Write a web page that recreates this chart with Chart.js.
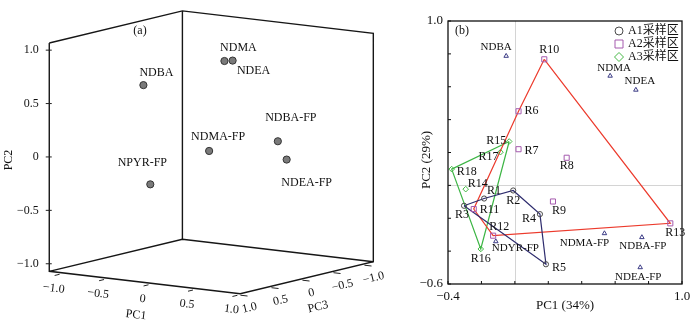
<!DOCTYPE html>
<html>
<head>
<meta charset="utf-8">
<script src="https://cdn.jsdelivr.net/npm/chart.js@4.4.1/dist/chart.umd.min.js"></script>
<style>
  html, body { margin: 0; padding: 0; background: #fff; }
  #wrap { position: relative; width: 700px; height: 327px; }
  canvas { position: absolute; top: 0; }
  #cube { left: 0; }
  #biplot { left: 385px; }
</style>
</head>
<body>
<div id="wrap">
  <canvas id="cube" width="385" height="327"></canvas>
  <canvas id="biplot" width="315" height="327"></canvas>
</div>
<script>
// (a) loadings in PC1/PC2/PC3 space
const cubeNames = ['NDMA', 'NDEA', 'NDBA', 'NDMA-FP', 'NDEA-FP', 'NDBA-FP', 'NPYR-FP'];
const cubePC1 = [0.57, 0.72, -0.05, 0.54, 0.75, 0.76, -0.11];
const cubePC2 = [1.02, 1.05, 0.79, 0.18, -0.02, 0.18, -0.20];
const cubePC3 = [0.60, 0.68, 1.05, 0.81, -0.17, -0.01, 0.85];
const cubeTicks = [-1.0, -0.5, 0, 0.5, 1.0];

// (b) sample scores
const sampleNames = ['R1', 'R2', 'R3', 'R4', 'R5', 'R6', 'R7', 'R8', 'R9', 'R10',
                     'R11', 'R12', 'R13', 'R14', 'R15', 'R16', 'R17', 'R18'];
const sampleZone = ['A1', 'A1', 'A1', 'A1', 'A1', 'A2', 'A2', 'A2', 'A2', 'A2',
                    'A2', 'A2', 'A2', 'A3', 'A3', 'A3', 'A3', 'A3'];
const scorePC1 = [-0.184, -0.010, -0.304, 0.150, 0.186, 0.022, 0.022, 0.310, 0.228, 0.176,
                  -0.246, -0.130, 0.930, -0.294, -0.034, -0.204, -0.086, -0.378];
const scorePC2 = [-0.080, -0.031, -0.124, -0.175, -0.480, 0.451, 0.220, 0.168, -0.098, 0.767,
                  -0.144, -0.306, -0.231, -0.023, 0.267, -0.387, 0.202, 0.099];

// (b) loading vectors
const vecNames = ['NDMA', 'NDEA', 'NDBA', 'NDMA-FP', 'NDEA-FP', 'NDBA-FP', 'NDYR-FP'];
const vecPC1 = [0.570, 0.724, -0.052, 0.536, 0.750, 0.760, -0.114];
const vecPC2 = [0.666, 0.581, 0.787, -0.292, -0.499, -0.316, -0.341];

// outline of each sampling zone
const zoneHull = {
  A1: ['R3', 'R1', 'R2', 'R4', 'R5'],
  A2: ['R10', 'R6', 'R11', 'R12', 'R13'],
  A3: ['R15', 'R18', 'R16']
};
const zoneNames = ['A1', 'A2', 'A3'];
const zoneLegend = ['A1采样区', 'A2采样区', 'A3采样区'];

const serif = '"Liberation Serif", "Noto Sans CJK SC", serif';
Chart.defaults.font.family = serif;
Chart.defaults.color = '#111';

const zoneMarker = {
  A1: { style: 'circle', color: '#4a4a4a', r: 2.6 },
  A2: { style: 'rect', color: '#a55aae', r: 3.6 },
  A3: { style: 'rectRot', color: '#45b845', r: 2.8 }
};
const hullColor = { A1: '#2e2c6e', A2: '#ec3a2c', A3: '#3cb544' };

function fmt(v) {
  if (Math.abs(v) < 1e-9) return '0';
  return (v < 0 ? '\u2212' : '') + Math.abs(v).toFixed(1);
}
function seg(ctx, x1, y1, x2, y2) {
  ctx.beginPath(); ctx.moveTo(x1, y1); ctx.lineTo(x2, y2); ctx.stroke();
}
function rotText(ctx, txt, x, y, ang) {
  ctx.save();
  ctx.translate(x, y);
  ctx.rotate(ang);
  ctx.fillText(txt, 0, 0);
  ctx.restore();
}

// ---------- (a) oblique view of the PC box ----------
const L = 1.1;
const view = { ox: 211.75, oy: 152, u: [88.9, 10.5], v: [-62, 15], h: 106.8 };
function project(p1, p2, p3) {
  return {
    x: view.ox + p1 * view.u[0] + p3 * view.v[0],
    y: view.oy + p1 * view.u[1] + p3 * view.v[1] - p2 * view.h
  };
}
const angPC1 = Math.atan2(view.u[1], view.u[0]);
const angPC3 = Math.atan2(-view.v[1], -view.v[0]);

const cLtop = project(-L, L, L), cLbot = project(-L, -L, L);
const cFbot = project(L, -L, L);
const cRtop = project(L, L, -L), cRbot = project(L, -L, -L);
const cBtop = project(-L, L, -L), cBbot = project(-L, -L, -L);

const cubeLabelPos = {
  'NDBA': [13, -12], 'NDMA': [14, -13], 'NDEA': [21, 10], 'NDMA-FP': [9, -14],
  'NDBA-FP': [13, -23], 'NDEA-FP': [20, 23], 'NPYR-FP': [-8, -22]
};

function frameSet(pts) {
  return {
    data: pts, showLine: true, fill: false, pointRadius: 0, pointHoverRadius: 0,
    borderColor: '#161616', borderWidth: 1.4, tension: 0, clip: false, order: 2
  };
}

const cubeDecor = {
  id: 'cubeDecor',
  afterDraw(chart) {
    const ctx = chart.ctx;
    ctx.save();
    ctx.strokeStyle = '#222';
    ctx.lineWidth = 1;
    ctx.fillStyle = '#111';
    ctx.font = '12px ' + serif;
    ctx.textBaseline = 'middle';

    // PC2 ticks on the left vertical edge
    ctx.textAlign = 'right';
    cubeTicks.forEach(t => {
      const p = project(-L, t, L);
      seg(ctx, p.x, p.y, p.x + 6, p.y);
      ctx.fillText(fmt(t), p.x - 7, p.y);
    });

    ctx.textAlign = 'center';
    // PC1 ticks along the front-left floor edge
    cubeTicks.forEach(t => {
      const a = project(t, -L, L), b = project(t, -L, L - 0.08);
      seg(ctx, a.x, a.y, b.x, b.y);
      rotText(ctx, fmt(t), a.x - 1, a.y + 13, angPC1);
    });
    // PC3 ticks along the front-right floor edge
    cubeTicks.forEach(t => {
      const a = project(L, -L, t), b = project(L - 0.08, -L, t);
      seg(ctx, a.x, a.y, b.x, b.y);
      rotText(ctx, fmt(t), a.x + 2, a.y + 12, angPC3);
    });

    ctx.font = '12px ' + serif;
    rotText(ctx, 'PC1', 136, 315, angPC1);
    rotText(ctx, 'PC3', 318, 307, angPC3);
    rotText(ctx, 'PC2', 9, 160, -Math.PI / 2);
    ctx.fillText('(a)', 140, 31);

    // compound names
    const meta = chart.getDatasetMeta(0);
    meta.data.forEach((pt, i) => {
      const off = cubeLabelPos[cubeNames[i]];
      ctx.fillText(cubeNames[i], pt.x + off[0], pt.y + off[1]);
    });
    ctx.restore();
  }
};

new Chart(document.getElementById('cube'), {
  type: 'scatter',
  data: {
    datasets: [
      {
        data: cubeNames.map((n, i) => project(cubePC1[i], cubePC2[i], cubePC3[i])),
        pointRadius: 3.6, pointHoverRadius: 3.6,
        backgroundColor: '#7a7a7a', borderColor: '#333', borderWidth: 1, clip: false, order: 1
      },
      frameSet([cLtop, cLbot, cFbot, cRbot, cRtop, cBtop, cLtop]),
      frameSet([cBtop, cBbot]),
      frameSet([cLbot, cBbot, cRbot])
    ]
  },
  options: {
    responsive: false, animation: false, devicePixelRatio: 1,
    layout: { padding: 0 },
    scales: {
      x: { type: 'linear', display: false, min: 0, max: 385 },
      y: { type: 'linear', display: false, min: 0, max: 327, reverse: true }
    },
    plugins: { legend: { display: false }, tooltip: { enabled: false } }
  },
  plugins: [cubeDecor]
});

// ---------- (b) PC1-PC2 biplot ----------
const bipLabelPos = {
  'NDBA': [-10, -9], 'R10': [5, -9], 'NDMA': [4, -8], 'NDEA': [4, -9],
  'R6': [6, 0, 'left'], 'R15': [-3, -1, 'right'], 'R7': [6, 2, 'left'],
  'R17': [-2, 5, 'right'], 'R8': [0, 8], 'R18': [5, 3, 'left'], 'R14': [2, -5, 'left'],
  'R1': [10, -8], 'R2': [0, 10], 'R9': [6, 9], 'R3': [-2, 9], 'R11': [6, 1, 'left'],
  'R4': [-4, 5, 'right'], 'R12': [6, -9], 'R13': [5, 9], 'NDMA-FP': [-20, 10],
  'NDBA-FP': [1, 9], 'NDYR-FP': [-4, 7, 'left'], 'R16': [0, 10], 'R5': [6, 4, 'left'],
  'NDEA-FP': [-2, 10]
};

function scoreOf(name) {
  const i = sampleNames.indexOf(name);
  return { x: scorePC1[i], y: scorePC2[i] };
}

const bipSets = [];
zoneNames.forEach(z => {
  const idx = sampleNames.map((n, i) => i).filter(i => sampleZone[i] === z);
  const m = zoneMarker[z];
  bipSets.push({
    data: idx.map(i => ({ x: scorePC1[i], y: scorePC2[i] })),
    names: idx.map(i => sampleNames[i]), labelSize: 12,
    pointStyle: m.style, pointRadius: m.r, pointHoverRadius: m.r,
    borderColor: m.color, backgroundColor: 'rgba(0,0,0,0)', borderWidth: 1, order: 1
  });
});
bipSets.push({
  data: vecNames.map((n, i) => ({ x: vecPC1[i], y: vecPC2[i] })),
  names: vecNames, labelSize: 11,
  pointStyle: 'triangle', pointRadius: 2.6, pointHoverRadius: 2.6,
  borderColor: '#3b3b85', backgroundColor: 'rgba(0,0,0,0)', borderWidth: 1, order: 1
});
zoneNames.forEach(z => {
  const ring = zoneHull[z].concat([zoneHull[z][0]]);
  bipSets.push({
    data: ring.map(scoreOf), showLine: true, fill: false, pointRadius: 0, pointHoverRadius: 0,
    borderColor: hullColor[z], borderWidth: 1.2, tension: 0, order: 2
  });
});

function markerAt(ctx, style, x, y, r) {
  ctx.beginPath();
  if (style === 'circle') {
    ctx.arc(x, y, r, 0, Math.PI * 2);
  } else if (style === 'rect') {
    ctx.rect(x - r, y - r, 2 * r, 2 * r);
  } else {
    ctx.moveTo(x, y - r); ctx.lineTo(x + r, y); ctx.lineTo(x, y + r); ctx.lineTo(x - r, y);
    ctx.closePath();
  }
  ctx.stroke();
}

const bipDecor = {
  id: 'bipDecor',
  beforeDatasetsDraw(chart) {
    const { ctx, chartArea: a, scales } = chart;
    ctx.save();
    ctx.strokeStyle = '#d4d4d4';
    ctx.lineWidth = 1;
    const x0 = Math.round(scales.x.getPixelForValue(0)) + 0.5;
    const y0 = Math.round(scales.y.getPixelForValue(0)) + 0.5;
    seg(ctx, x0, a.top, x0, a.bottom);
    seg(ctx, a.left, y0, a.right, y0);
    ctx.restore();
  },
  afterDraw(chart) {
    const { ctx, chartArea: a, scales } = chart;
    ctx.save();
    ctx.strokeStyle = '#111';
    ctx.lineWidth = 1.3;
    ctx.strokeRect(a.left, a.top, a.right - a.left, a.bottom - a.top);

    // inward tick marks
    ctx.lineWidth = 1;
    scales.x.ticks.forEach(t => {
      const px = scales.x.getPixelForValue(t.value);
      seg(ctx, px, a.bottom, px, a.bottom - 3);
    });
    scales.y.ticks.forEach(t => {
      const py = scales.y.getPixelForValue(t.value);
      seg(ctx, a.left, py, a.left + 3, py);
    });

    // point names
    ctx.fillStyle = '#111';
    ctx.textBaseline = 'middle';
    chart.data.datasets.forEach((ds, di) => {
      if (!ds.names) return;
      ctx.font = ds.labelSize + 'px ' + serif;
      chart.getDatasetMeta(di).data.forEach((pt, i) => {
        const off = bipLabelPos[ds.names[i]] || [0, -9];
        ctx.textAlign = off[2] || 'center';
        ctx.fillText(ds.names[i], pt.x + off[0], pt.y + off[1]);
      });
    });

    // legend
    ctx.font = '12px ' + serif;
    ctx.textAlign = 'left';
    zoneNames.forEach((z, i) => {
      const y = 31 + i * 13;
      const m = zoneMarker[z];
      ctx.strokeStyle = m.color;
      ctx.lineWidth = 1;
      markerAt(ctx, m.style, 234, y, m.style === 'rectRot' ? 4.5 : 4);
      ctx.fillText(zoneLegend[i], 243, y);
    });

    // titles
    ctx.font = '13px ' + serif;
    ctx.textAlign = 'center';
    ctx.fillText('PC1 (34%)', 180, 306);
    rotText(ctx, 'PC2 (29%)', 42, 160, -Math.PI / 2);
    ctx.font = '12px ' + serif;
    ctx.fillText('(b)', 77, 31);
    ctx.restore();
  }
};

function endLabel(lo, hi) {
  return v => (Math.abs(v - lo) < 1e-6 || Math.abs(v - hi) < 1e-6) ? fmt(v) : '';
}

new Chart(document.getElementById('biplot'), {
  type: 'scatter',
  data: { datasets: bipSets },
  options: {
    responsive: false, animation: false, devicePixelRatio: 1,
    layout: { padding: { left: 28, right: 18, top: 21, bottom: 0 } },
    scales: {
      x: {
        type: 'linear', min: -0.4, max: 1.0,
        ticks: { stepSize: 0.2, autoSkip: false, maxRotation: 0, padding: 5,
                 font: { size: 13 }, color: '#111', callback: endLabel(-0.4, 1.0) },
        grid: { display: false, drawTicks: false },
        border: { display: false },
        afterFit: s => { s.height = 43; }
      },
      y: {
        type: 'linear', min: -0.6, max: 1.0,
        ticks: { stepSize: 0.2, autoSkip: false, padding: 5,
                 font: { size: 13 }, color: '#111', callback: endLabel(-0.6, 1.0) },
        grid: { display: false, drawTicks: false },
        border: { display: false },
        afterFit: s => { s.width = 35; }
      }
    },
    plugins: { legend: { display: false }, tooltip: { enabled: false } }
  },
  plugins: [bipDecor]
});
</script>
</body>
</html>
